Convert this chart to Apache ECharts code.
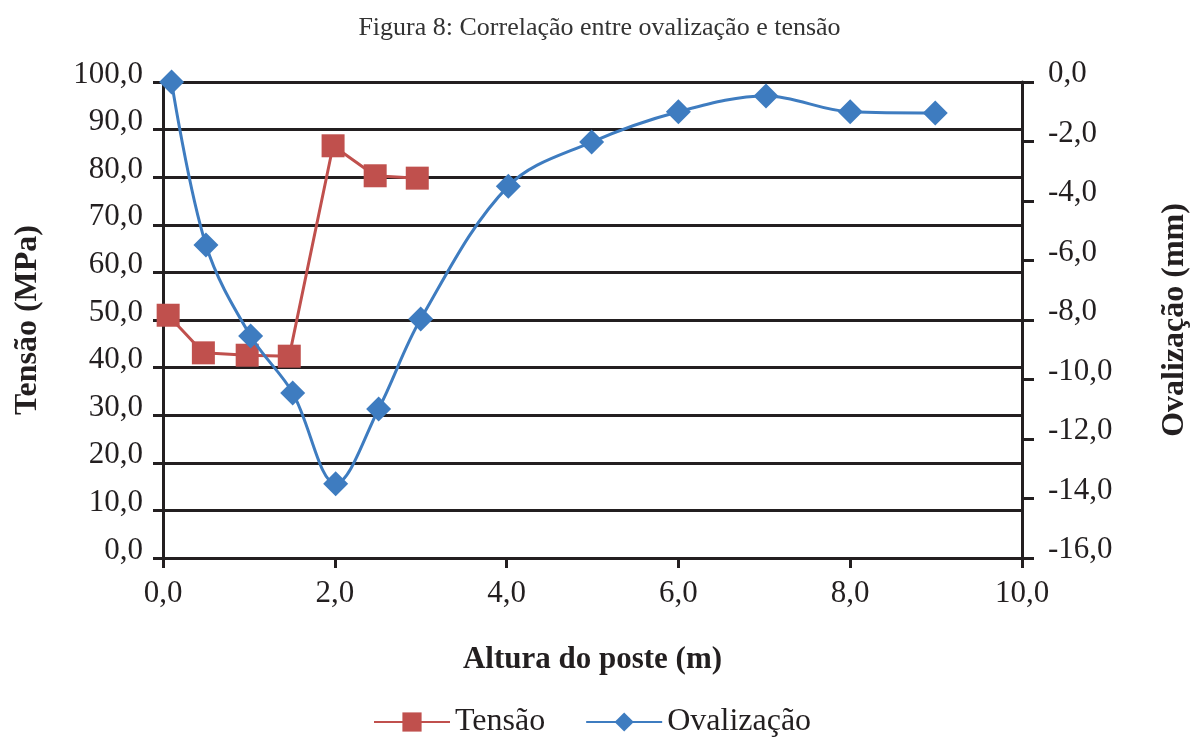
<!DOCTYPE html>
<html><head><meta charset="utf-8">
<script src="https://cdn.jsdelivr.net/npm/echarts@6/dist/echarts.min.js"></script>
<style>html,body{margin:0;padding:0;background:#fff}#c{width:1199px;height:740px}</style>
</head><body><div id="c"></div>
<script>
const tensaoX = [0.06, 0.47, 0.98, 1.47, 1.98, 2.47, 2.96];
const tensaoY = [51.0, 43.1, 42.6, 42.4, 86.6, 80.3, 79.8];
const ovalX = [0.1, 0.5, 1.02, 1.51, 2.01, 2.51, 3.0, 4.02, 4.99, 6.0, 7.02, 8.0, 8.99];
const ovalY = [0.0, -5.48, -8.54, -10.45, -13.5, -10.99, -7.97, -3.5, -2.02, -1.0, -0.47, -1.0, -1.04];
const seriesNames = ['Tensão', 'Ovalização'];
const titleText = 'Figura 8: Correlação entre ovalização e tensão';

const FONT = '"Liberation Serif", "DejaVu Serif", serif';
const INK = '#231f20';
const fmt = v => v.toFixed(1).replace('.', ',');

const chart = echarts.init(document.getElementById('c'));
chart.setOption({
  animation: false,
  backgroundColor: '#fff',
  textStyle: { fontFamily: FONT },
  title: {
    text: titleText, left: 'center', top: 10,
    textStyle: { fontFamily: FONT, fontSize: 26, fontWeight: 'normal', color: '#333' }
  },
  legend: {
    top: 701, left: 368, itemWidth: 76, itemHeight: 24, itemGap: 40,
    textStyle: { fontFamily: FONT, fontSize: 32, color: INK },
    data: seriesNames
  },
  grid: { left: 163, right: 177, top: 82, bottom: 182, containLabel: false },
  xAxis: {
    type: 'value', min: 0, max: 10, interval: 2,
    name: 'Altura do poste (m)', nameLocation: 'middle', nameGap: 86,
    nameTextStyle: { fontFamily: FONT, fontSize: 31, fontWeight: 'bold', color: INK },
    axisLine: { show: true, onZero: false, lineStyle: { color: INK, width: 3 } },
    axisTick: { show: true, length: 10, lineStyle: { color: INK, width: 3 } },
    axisLabel: { fontFamily: FONT, fontSize: 31, color: INK, margin: 20, formatter: fmt },
    splitLine: { show: false }
  },
  yAxis: [
    {
      type: 'value', min: 0, max: 100, interval: 10, position: 'left',
      name: 'Tensão (MPa)', nameLocation: 'middle', nameGap: 119, nameRotate: 90,
      nameTextStyle: { fontFamily: FONT, fontSize: 32, fontWeight: 'bold', color: INK },
      axisLine: { show: true, onZero: false, lineStyle: { color: INK, width: 3 } },
      axisTick: { show: true, length: 10, lineStyle: { color: INK, width: 3 } },
      axisLabel: { fontFamily: FONT, fontSize: 31, color: INK, margin: 20, formatter: fmt,
                   verticalAlign: 'bottom', lineHeight: 15 },
      splitLine: { show: true, lineStyle: { color: INK, width: 3 } }
    },
    {
      type: 'value', min: -16, max: 0, interval: 2, position: 'right',
      name: 'Ovalização (mm)', nameLocation: 'middle', nameGap: 137, nameRotate: 90,
      nameTextStyle: { fontFamily: FONT, fontSize: 32, fontWeight: 'bold', color: INK },
      axisLine: { show: true, onZero: false, lineStyle: { color: INK, width: 3 } },
      axisTick: { show: true, length: 12, lineStyle: { color: INK, width: 3 } },
      axisLabel: { fontFamily: FONT, fontSize: 31, color: INK, margin: 26, formatter: fmt,
                   verticalAlign: 'bottom', lineHeight: 16 },
      splitLine: { show: false }
    }
  ],
  series: [
    {
      name: seriesNames[0], type: 'line', yAxisIndex: 0,
      data: tensaoX.map((x, i) => [x, tensaoY[i]]),
      symbol: 'rect', symbolSize: 23,
      lineStyle: { color: '#C0504D', width: 3 },
      itemStyle: { color: '#C0504D' },
      z: 3
    },
    {
      name: seriesNames[1], type: 'line', yAxisIndex: 1,
      data: ovalX.map((x, i) => [x, ovalY[i]]),
      smooth: 0.35,
      symbol: 'diamond', symbolSize: 25,
      lineStyle: { color: '#3E7CC0', width: 3 },
      itemStyle: { color: '#3E7CC0' },
      z: 4
    }
  ]
});
</script></body></html>
